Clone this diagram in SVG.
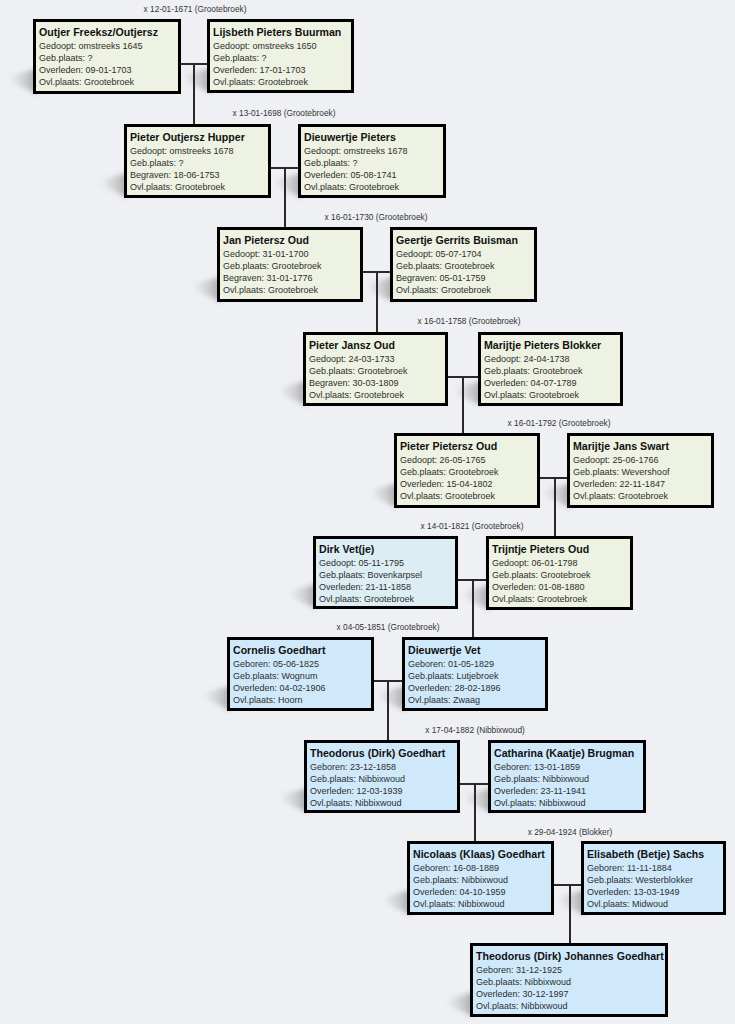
<svg xmlns="http://www.w3.org/2000/svg" width="735" height="1024" viewBox="0 0 735 1024">
<defs>
<linearGradient id="shg" x1="0" y1="0" x2="1" y2="0">
<stop offset="0" stop-color="#8a8a8a" stop-opacity="0"/>
<stop offset="0.6" stop-color="#8a8a8a" stop-opacity="0.35"/>
<stop offset="1" stop-color="#707070" stop-opacity="0.6"/>
</linearGradient>
<filter id="blur" x="-40%" y="-40%" width="180%" height="180%"><feGaussianBlur stdDeviation="2.5"/></filter>
<style>
.bg{fill:#eef0f3}
.box{stroke:#000;stroke-width:3}
.g{fill:#eef2e2}
.pb{fill:#dcedf3}
.b{fill:#cfe9fb}
.sh{fill:url(#shg);filter:url(#blur)}
.nm{font-family:"Liberation Sans",Arial,sans-serif;font-size:10.6px;font-weight:bold;fill:#111}
.dt{font-family:"Liberation Sans",Arial,sans-serif;font-size:9px;fill:#2e2e2e}
.lb{font-family:"Liberation Sans",Arial,sans-serif;font-size:8.3px;fill:#333;text-anchor:middle}
.ln{stroke:#2a2a2a;stroke-width:2;fill:none}
</style>
</defs>
<rect class="bg" x="0" y="0" width="735" height="1024"/>

<g id="shadows">
<polygon class="sh" points="37,69 9,76 9,81 37,94"/>
<polygon class="sh" points="211,68 183,75 183,80 211,93"/>
<polygon class="sh" points="128,173 100,180 100,185 128,198"/>
<polygon class="sh" points="302,173 274,180 274,185 302,198"/>
<polygon class="sh" points="221,277 193,284 193,289 221,302"/>
<polygon class="sh" points="394,277 366,284 366,289 394,302"/>
<polygon class="sh" points="307,381 279,388 279,393 307,406"/>
<polygon class="sh" points="482,381 454,388 454,393 482,406"/>
<polygon class="sh" points="398,483 370,490 370,495 398,508"/>
<polygon class="sh" points="571,483 543,490 543,495 571,508"/>
<polygon class="sh" points="317,584 289,591 289,596 317,609"/>
<polygon class="sh" points="490,585 462,592 462,597 490,610"/>
<polygon class="sh" points="231,686 203,693 203,698 231,711"/>
<polygon class="sh" points="406,686 378,693 378,698 406,711"/>
<polygon class="sh" points="308,788 280,795 280,800 308,813"/>
<polygon class="sh" points="492,788 464,795 464,800 492,813"/>
<polygon class="sh" points="411,890 383,897 383,902 411,915"/>
<polygon class="sh" points="585,890 557,897 557,902 585,915"/>
<polygon class="sh" points="474,992 446,999 446,1004 474,1017"/>
</g>

<g id="connectors">
<path class="ln" d="M181,64 H207 M194,64 V124"/>
<path class="ln" d="M271,168 H298 M285,168 V227"/>
<path class="ln" d="M363,272 H390 M377,272 V332"/>
<path class="ln" d="M448,377 H478 M463,377 V433"/>
<path class="ln" d="M540,478 H567 M555,478 V536"/>
<path class="ln" d="M458,580 H486 M473,580 V637"/>
<path class="ln" d="M374,681 H402 M388,681 V740"/>
<path class="ln" d="M460,784 H488 M475,784 V841"/>
<path class="ln" d="M554,885 H581 M570,885 V943"/>
<text class="lb" x="195" y="12">x 12-01-1671 (Grootebroek)</text>
<text class="lb" x="284" y="116">x 13-01-1698 (Grootebroek)</text>
<text class="lb" x="376" y="220">x 16-01-1730 (Grootebroek)</text>
<text class="lb" x="469" y="324">x 16-01-1758 (Grootebroek)</text>
<text class="lb" x="559" y="426">x 16-01-1792 (Grootebroek)</text>
<text class="lb" x="472" y="529">x 14-01-1821 (Grootebroek)</text>
<text class="lb" x="388" y="630">x 04-05-1851 (Grootebroek)</text>
<text class="lb" x="475" y="733">x 17-04-1882 (Nibbixwoud)</text>
<text class="lb" x="570" y="835">x 29-04-1924 (Blokker)</text>
</g>

<g id="n1" transform="translate(33,19)">
<rect class="box g" x="1.5" y="1.5" width="145" height="72"/>
<text class="nm" x="6" y="17">Outjer Freeksz/Outjersz</text>
<text class="dt" x="6" y="29.5">Gedoopt: omstreeks 1645</text>
<text class="dt" x="6" y="41.5">Geb.plaats: ?</text>
<text class="dt" x="6" y="53.5">Overleden: 09-01-1703</text>
<text class="dt" x="6" y="65.5">Ovl.plaats: Grootebroek</text>
</g>
<g id="n2" transform="translate(207,19)">
<rect class="box g" x="1.5" y="1.5" width="144" height="71"/>
<text class="nm" x="6" y="17">Lijsbeth Pieters Buurman</text>
<text class="dt" x="6" y="29.5">Gedoopt: omstreeks 1650</text>
<text class="dt" x="6" y="41.5">Geb.plaats: ?</text>
<text class="dt" x="6" y="53.5">Overleden: 17-01-1703</text>
<text class="dt" x="6" y="66">Ovl.plaats: Grootebroek</text>
</g>
<g id="n3" transform="translate(124,124)">
<rect class="box g" x="1.5" y="1.5" width="144" height="71"/>
<text class="nm" x="6" y="17">Pieter Outjersz Hupper</text>
<text class="dt" x="6" y="29.5">Gedoopt: omstreeks 1678</text>
<text class="dt" x="6" y="41.5">Geb.plaats: ?</text>
<text class="dt" x="6" y="53.5">Begraven: 18-06-1753</text>
<text class="dt" x="6" y="65.5">Ovl.plaats: Grootebroek</text>
</g>
<g id="n4" transform="translate(298,124)">
<rect class="box g" x="1.5" y="1.5" width="145" height="71"/>
<text class="nm" x="6" y="17">Dieuwertje Pieters</text>
<text class="dt" x="6" y="29.5">Gedoopt: omstreeks 1678</text>
<text class="dt" x="6" y="41.5">Geb.plaats: ?</text>
<text class="dt" x="6" y="53.5">Overleden: 05-08-1741</text>
<text class="dt" x="6" y="66">Ovl.plaats: Grootebroek</text>
</g>
<g id="n5" transform="translate(217,227)">
<rect class="box g" x="1.5" y="1.5" width="143" height="72"/>
<text class="nm" x="6" y="17">Jan Pietersz Oud</text>
<text class="dt" x="6" y="29.5">Gedoopt: 31-01-1700</text>
<text class="dt" x="6" y="41.5">Geb.plaats: Grootebroek</text>
<text class="dt" x="6" y="53.5">Begraven: 31-01-1776</text>
<text class="dt" x="6" y="65.5">Ovl.plaats: Grootebroek</text>
</g>
<g id="n6" transform="translate(390,227)">
<rect class="box g" x="1.5" y="1.5" width="144" height="72"/>
<text class="nm" x="6" y="17">Geertje Gerrits Buisman</text>
<text class="dt" x="6" y="29.5">Gedoopt: 05-07-1704</text>
<text class="dt" x="6" y="41.5">Geb.plaats: Grootebroek</text>
<text class="dt" x="6" y="53.5">Begraven: 05-01-1759</text>
<text class="dt" x="6" y="66">Ovl.plaats: Grootebroek</text>
</g>
<g id="n7" transform="translate(303,332)">
<rect class="box g" x="1.5" y="1.5" width="142" height="71"/>
<text class="nm" x="6" y="17">Pieter Jansz Oud</text>
<text class="dt" x="6" y="29.5">Gedoopt: 24-03-1733</text>
<text class="dt" x="6" y="41.5">Geb.plaats: Grootebroek</text>
<text class="dt" x="6" y="53.5">Begraven: 30-03-1809</text>
<text class="dt" x="6" y="65.5">Ovl.plaats: Grootebroek</text>
</g>
<g id="n8" transform="translate(478,332)">
<rect class="box g" x="1.5" y="1.5" width="142" height="71"/>
<text class="nm" x="6" y="17">Marijtje Pieters Blokker</text>
<text class="dt" x="6" y="29.5">Gedoopt: 24-04-1738</text>
<text class="dt" x="6" y="41.5">Geb.plaats: Grootebroek</text>
<text class="dt" x="6" y="53.5">Overleden: 04-07-1789</text>
<text class="dt" x="6" y="66">Ovl.plaats: Grootebroek</text>
</g>
<g id="n9" transform="translate(394,433)">
<rect class="box g" x="1.5" y="1.5" width="143" height="72"/>
<text class="nm" x="6" y="17">Pieter Pietersz Oud</text>
<text class="dt" x="6" y="29.5">Gedoopt: 26-05-1765</text>
<text class="dt" x="6" y="41.5">Geb.plaats: Grootebroek</text>
<text class="dt" x="6" y="53.5">Overleden: 15-04-1802</text>
<text class="dt" x="6" y="65.5">Ovl.plaats: Grootebroek</text>
</g>
<g id="n10" transform="translate(567,433)">
<rect class="box g" x="1.5" y="1.5" width="144" height="72"/>
<text class="nm" x="6" y="17">Marijtje Jans Swart</text>
<text class="dt" x="6" y="29.5">Gedoopt: 25-06-1766</text>
<text class="dt" x="6" y="41.5">Geb.plaats: Wevershoof</text>
<text class="dt" x="6" y="53.5">Overleden: 22-11-1847</text>
<text class="dt" x="6" y="66">Ovl.plaats: Grootebroek</text>
</g>
<g id="n11" transform="translate(313,536)">
<rect class="box pb" x="1.5" y="1.5" width="142" height="70"/>
<text class="nm" x="6" y="17">Dirk Vet(je)</text>
<text class="dt" x="6" y="29.5">Gedoopt: 05-11-1795</text>
<text class="dt" x="6" y="41.5">Geb.plaats: Bovenkarpsel</text>
<text class="dt" x="6" y="53.5">Overleden: 21-11-1858</text>
<text class="dt" x="6" y="65.5">Ovl.plaats: Grootebroek</text>
</g>
<g id="n12" transform="translate(486,536)">
<rect class="box g" x="1.5" y="1.5" width="144" height="71"/>
<text class="nm" x="6" y="17">Trijntje Pieters Oud</text>
<text class="dt" x="6" y="29.5">Gedoopt: 06-01-1798</text>
<text class="dt" x="6" y="41.5">Geb.plaats: Grootebroek</text>
<text class="dt" x="6" y="53.5">Overleden: 01-08-1880</text>
<text class="dt" x="6" y="66">Ovl.plaats: Grootebroek</text>
</g>
<g id="n13" transform="translate(227,637)">
<rect class="box b" x="1.5" y="1.5" width="144" height="71"/>
<text class="nm" x="6" y="17">Cornelis Goedhart</text>
<text class="dt" x="6" y="29.5">Geboren: 05-06-1825</text>
<text class="dt" x="6" y="41.5">Geb.plaats: Wognum</text>
<text class="dt" x="6" y="53.5">Overleden: 04-02-1906</text>
<text class="dt" x="6" y="65.5">Ovl.plaats: Hoorn</text>
</g>
<g id="n14" transform="translate(402,637)">
<rect class="box b" x="1.5" y="1.5" width="143" height="71"/>
<text class="nm" x="6" y="17">Dieuwertje Vet</text>
<text class="dt" x="6" y="29.5">Geboren: 01-05-1829</text>
<text class="dt" x="6" y="41.5">Geb.plaats: Lutjebroek</text>
<text class="dt" x="6" y="53.5">Overleden: 28-02-1896</text>
<text class="dt" x="6" y="66">Ovl.plaats: Zwaag</text>
</g>
<g id="n15" transform="translate(304,740)">
<rect class="box b" x="1.5" y="1.5" width="153" height="70"/>
<text class="nm" x="6" y="17">Theodorus (Dirk) Goedhart</text>
<text class="dt" x="6" y="29.5">Geboren: 23-12-1858</text>
<text class="dt" x="6" y="41.5">Geb.plaats: Nibbixwoud</text>
<text class="dt" x="6" y="53.5">Overleden: 12-03-1939</text>
<text class="dt" x="6" y="65.5">Ovl.plaats: Nibbixwoud</text>
</g>
<g id="n16" transform="translate(488,740)">
<rect class="box b" x="1.5" y="1.5" width="155" height="70"/>
<text class="nm" x="6" y="17">Catharina (Kaatje) Brugman</text>
<text class="dt" x="6" y="29.5">Geboren: 13-01-1859</text>
<text class="dt" x="6" y="41.5">Geb.plaats: Nibbixwoud</text>
<text class="dt" x="6" y="53.5">Overleden: 23-11-1941</text>
<text class="dt" x="6" y="66">Ovl.plaats: Nibbixwoud</text>
</g>
<g id="n17" transform="translate(407,841)">
<rect class="box b" x="1.5" y="1.5" width="144" height="71"/>
<text class="nm" x="6" y="17">Nicolaas (Klaas) Goedhart</text>
<text class="dt" x="6" y="29.5">Geboren: 16-08-1889</text>
<text class="dt" x="6" y="41.5">Geb.plaats: Nibbixwoud</text>
<text class="dt" x="6" y="53.5">Overleden: 04-10-1959</text>
<text class="dt" x="6" y="65.5">Ovl.plaats: Nibbixwoud</text>
</g>
<g id="n18" transform="translate(581,841)">
<rect class="box b" x="1.5" y="1.5" width="142" height="71"/>
<text class="nm" x="6" y="17">Elisabeth (Betje) Sachs</text>
<text class="dt" x="6" y="29.5">Geboren: 11-11-1884</text>
<text class="dt" x="6" y="41.5">Geb.plaats: Westerblokker</text>
<text class="dt" x="6" y="53.5">Overleden: 13-03-1949</text>
<text class="dt" x="6" y="66">Ovl.plaats: Midwoud</text>
</g>
<g id="n19" transform="translate(470,943)">
<rect class="box b" x="1.5" y="1.5" width="195" height="71"/>
<text class="nm" x="6" y="17">Theodorus (Dirk) Johannes Goedhart</text>
<text class="dt" x="6" y="29.5">Geboren: 31-12-1925</text>
<text class="dt" x="6" y="41.5">Geb.plaats: Nibbixwoud</text>
<text class="dt" x="6" y="53.5">Overleden: 30-12-1997</text>
<text class="dt" x="6" y="66">Ovl.plaats: Nibbixwoud</text>
</g>
</svg>
